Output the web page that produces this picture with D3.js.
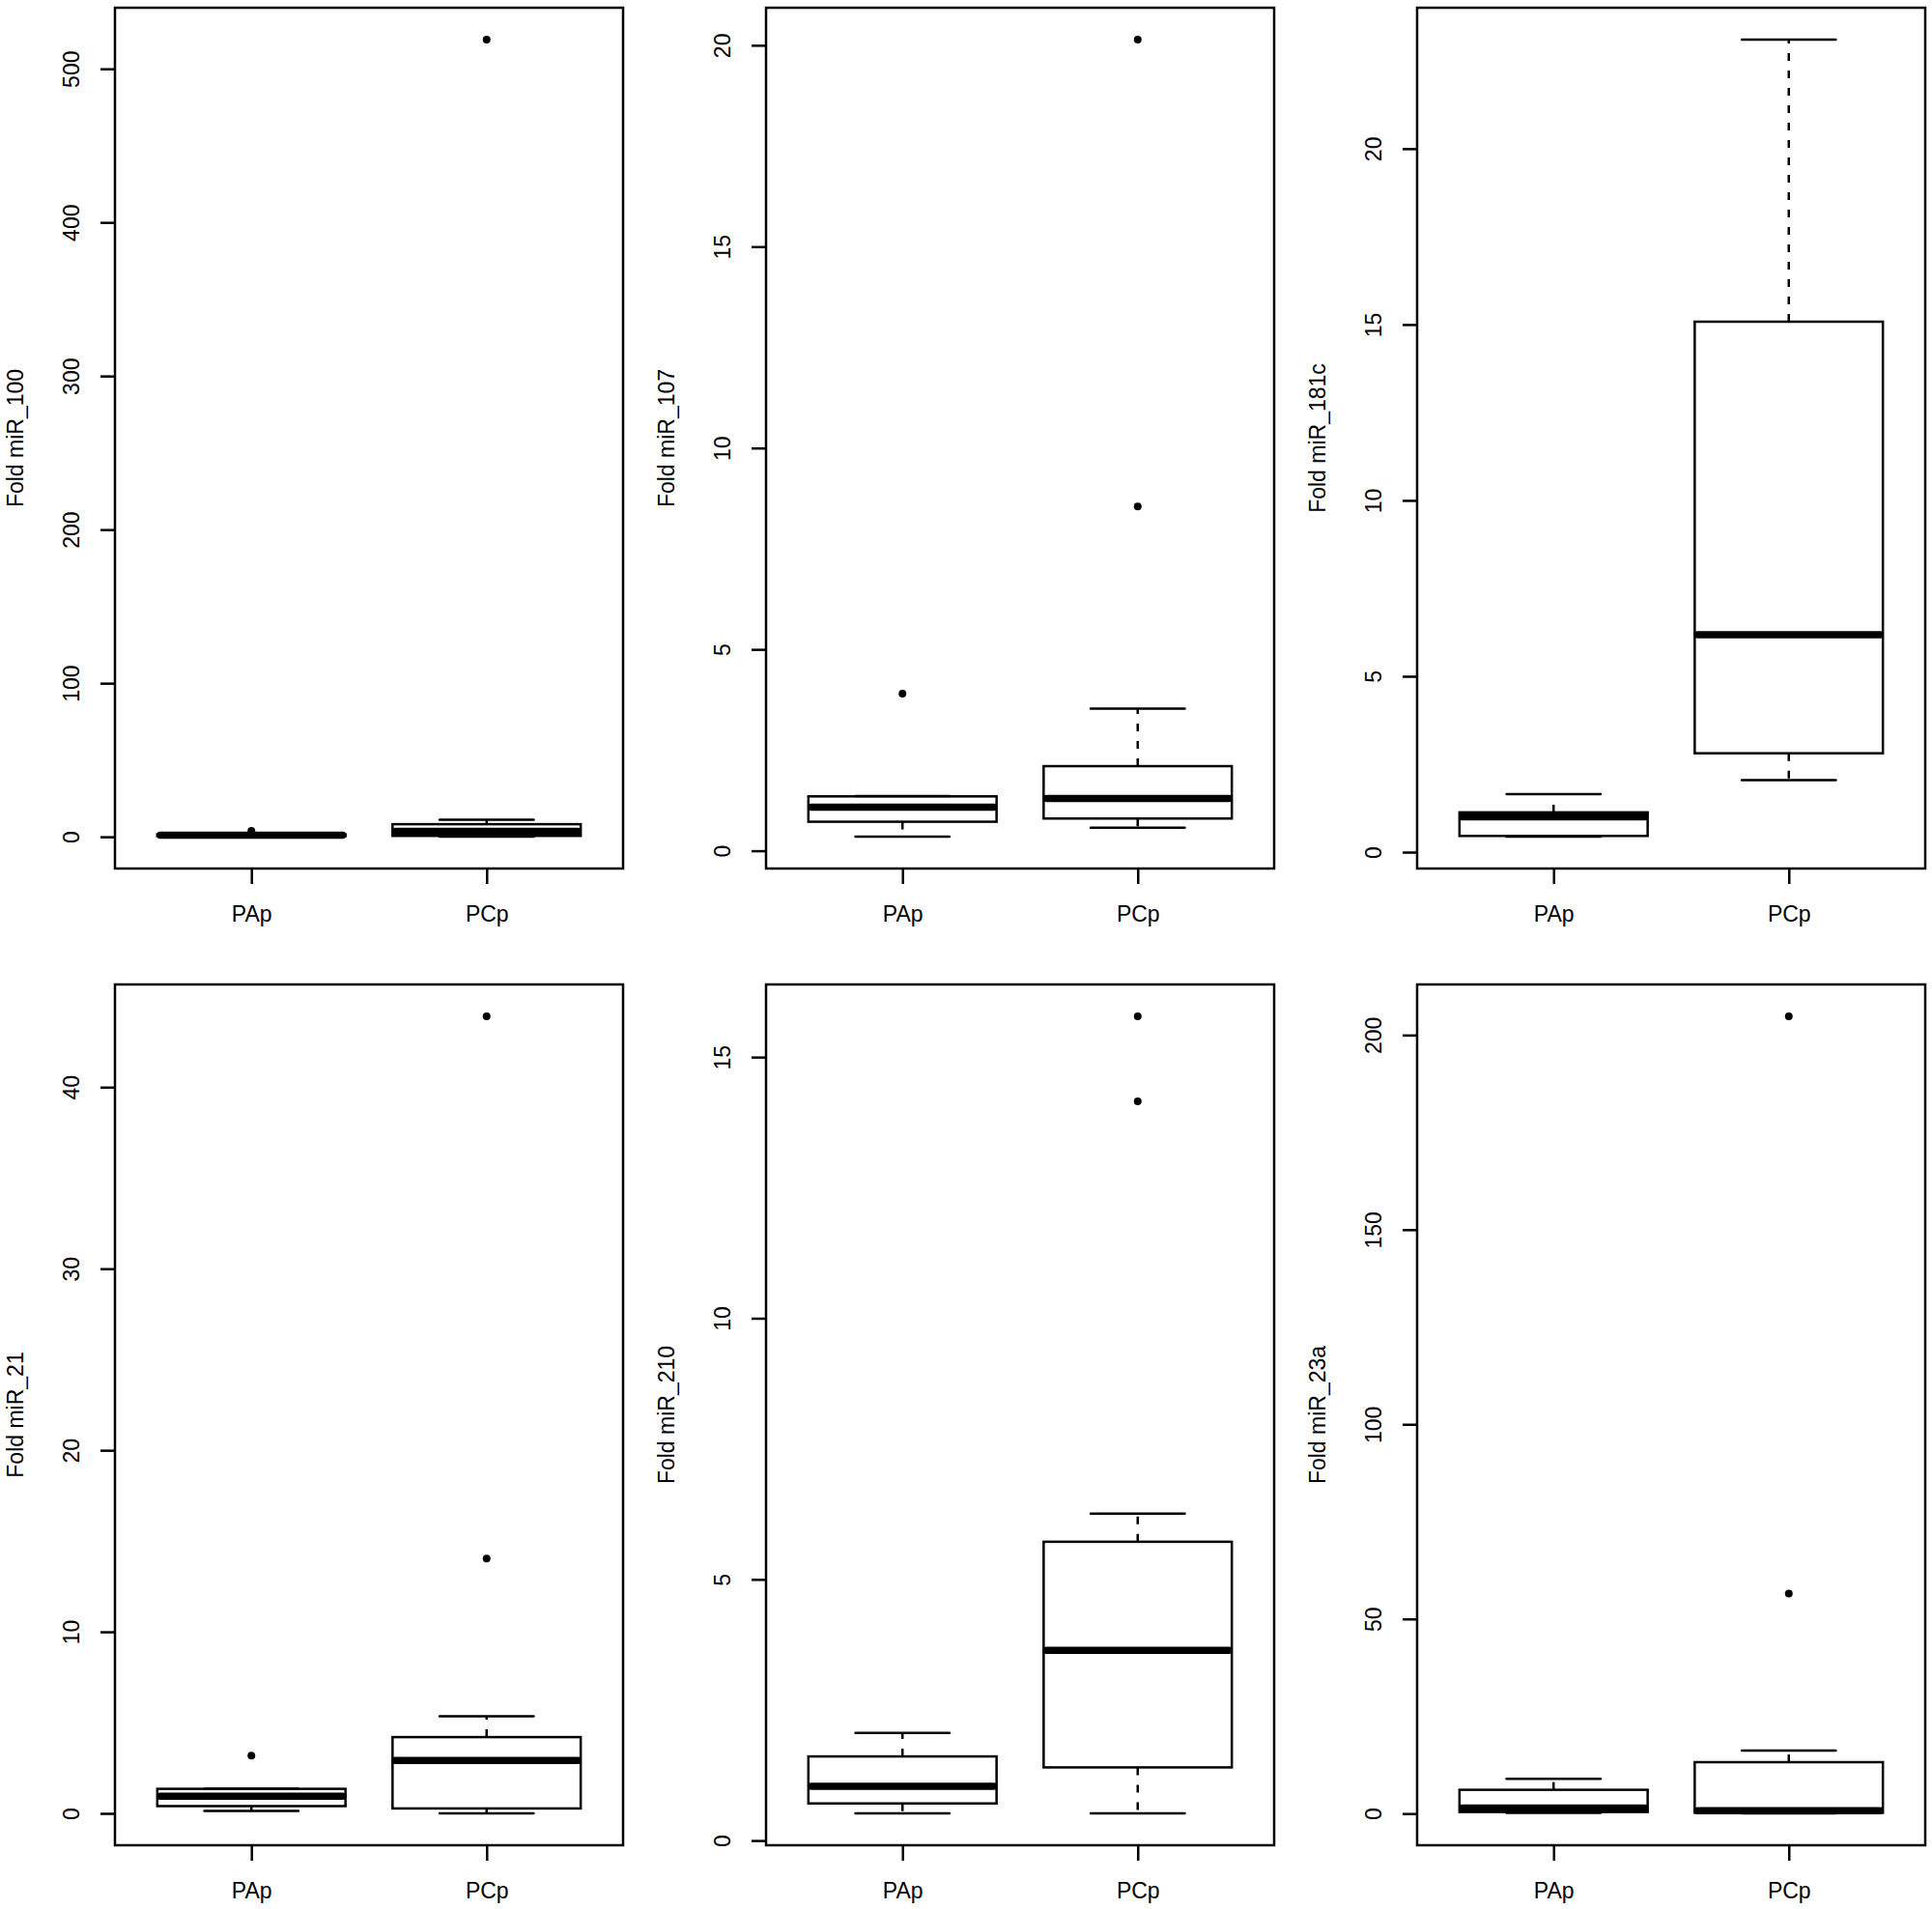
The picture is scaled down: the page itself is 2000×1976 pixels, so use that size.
<!DOCTYPE html>
<html>
<head>
<meta charset="utf-8">
<script src="https://cdn.jsdelivr.net/npm/d3@7"></script>
<style>
body { margin: 0; background: #fff; }
text { font-family: "Liberation Sans", Arial, Helvetica, sans-serif; }
</style>
</head>
<body>
<div id="container"></div>
<script>
// one panel per miRNA, two groups each
const mirnas = ["miR_100", "miR_107", "miR_181c", "miR_21", "miR_210", "miR_23a"];
const groups = ["PAp", "PCp"];

// box stats, each entry is [PAp, PCp]
const lowWhisker  = [[0.3, 0.1], [0.35, 0.57], [0.44, 2.05], [0.13, 0.0], [0.52, 0.52], [0.2, 0.05]];
const lowerQuart  = [[0.5, 0.6], [0.72, 0.8], [0.46, 2.81], [0.4, 0.27], [0.71, 1.40], [0.4, 0.2]];
const medians     = [[1.0, 3.5], [1.08, 1.3], [1.0, 6.18], [0.95, 2.91], [1.04, 3.64], [1.4, 0.75]];
const upperQuart  = [[1.5, 8.2], [1.35, 2.1], [1.13, 15.08], [1.35, 4.2], [1.61, 5.72], [6.1, 13.2]];
const highWhisker = [[2.2, 11.1], [1.36, 3.53], [1.65, 23.1], [1.36, 5.35], [2.06, 6.26], [8.9, 16.2]];
const outliers = [
    [[3.9], [519]],
    [[3.9], [8.55, 20.14]],
    [[], []],
    [[3.18], [14.03, 43.9]],
    [[], [14.15, 15.78]],
    [[], [56.5, 204.8]]
];
const yTicks = [
    [0, 100, 200, 300, 400, 500],
    [0, 5, 10, 15, 20],
    [0, 5, 10, 15, 20],
    [0, 10, 20, 30, 40],
    [0, 5, 10, 15],
    [0, 50, 100, 150, 200]
];

const colLeft = [119, 793, 1467];
const rowTop = [8, 1019];
const plot_w = 526, plot_h = 891;
const lw = 2.5;

const svg = d3.select("#container")
    .append("svg")
    .attr("width", 2000)
    .attr("height", 1976)
    .style("background", "#fff");

mirnas.forEach((name, i) => {
    const g = svg.append("g")
        .attr("transform", `translate(${colLeft[i % 3]},${rowTop[Math.floor(i / 3)]})`);

    let x = d3.scaleLinear()
            .domain([0.42, 2.58])
            .range([0, plot_w]);

    // R style range: data extent padded 4% each side
    let all = [].concat(lowWhisker[i], highWhisker[i], outliers[i][0], outliers[i][1]);
    let lo = d3.min(all), hi = d3.max(all), r = hi - lo;
    let y = d3.scaleLinear()
            .domain([lo - 0.04 * r, hi + 0.04 * r])
            .range([plot_h, 0]);

    groups.forEach((grp, j) => {
        const cx = x(j + 1);
        const half = x(1.4) - x(1);
        const stapleHalf = x(1.2) - x(1);

        // whiskers
        [[upperQuart[i][j], highWhisker[i][j]], [lowerQuart[i][j], lowWhisker[i][j]]].forEach(w => {
            if (w[0] !== w[1]) {
                g.append("line")
                    .attr("x1", cx).attr("x2", cx)
                    .attr("y1", y(w[0])).attr("y2", y(w[1]))
                    .attr("stroke", "#000")
                    .attr("stroke-width", lw)
                    .attr("stroke-dasharray", "8,10");
            }
        });
        // staples
        [highWhisker[i][j], lowWhisker[i][j]].forEach(v => {
            g.append("line")
                .attr("x1", cx - stapleHalf).attr("x2", cx + stapleHalf)
                .attr("y1", y(v)).attr("y2", y(v))
                .attr("stroke", "#000")
                .attr("stroke-width", lw)
                .attr("stroke-linecap", "round");
        });
        // box
        g.append("rect")
            .attr("x", cx - half)
            .attr("y", y(upperQuart[i][j]))
            .attr("width", 2 * half)
            .attr("height", y(lowerQuart[i][j]) - y(upperQuart[i][j]))
            .attr("fill", "none")
            .attr("stroke", "#000")
            .attr("stroke-width", lw);
        // median, rounded ends kept inside the box
        g.append("line")
            .attr("x1", cx - half + 3).attr("x2", cx + half - 3)
            .attr("y1", y(medians[i][j])).attr("y2", y(medians[i][j]))
            .attr("stroke", "#000")
            .attr("stroke-width", 7.5)
            .attr("stroke-linecap", "round");
        // outliers
        g.selectAll(null)
            .data(outliers[i][j])
            .enter()
            .append("circle")
            .attr("cx", cx)
            .attr("cy", d => y(d))
            .attr("r", 4)
            .attr("fill", "#000");
    });

    // frame
    g.append("rect")
        .attr("width", plot_w)
        .attr("height", plot_h)
        .attr("fill", "none")
        .attr("stroke", "#000")
        .attr("stroke-width", lw);

    let yAxis = g.append("g")
        .call(d3.axisLeft(y).tickValues(yTicks[i]).tickSize(15).tickFormat(d3.format("d")));
    yAxis.select(".domain").remove();
    yAxis.selectAll("line").attr("stroke-width", lw);
    yAxis.selectAll("text")
        .attr("transform", "rotate(-90)")
        .attr("x", 0)
        .attr("y", -37)
        .attr("dy", 0)
        .attr("text-anchor", "middle")
        .attr("font-size", 23)
        .attr("font-family", null)
        .attr("fill", "#000");

    let xAxis = g.append("g")
        .attr("transform", `translate(0,${plot_h})`)
        .call(d3.axisBottom(x).tickValues([1, 2]).tickSize(16).tickFormat(d => groups[d - 1]));
    xAxis.select(".domain").remove();
    xAxis.selectAll("line").attr("stroke-width", lw);
    xAxis.selectAll("text")
        .attr("y", 55)
        .attr("dy", 0)
        .attr("font-size", 23)
        .attr("font-family", null)
        .attr("fill", "#000");

    g.append("text")
        .attr("transform", `translate(-95,${plot_h / 2}) rotate(-90)`)
        .attr("text-anchor", "middle")
        .attr("font-size", 23)
        .text("Fold " + name);
});
</script>
</body>
</html>
